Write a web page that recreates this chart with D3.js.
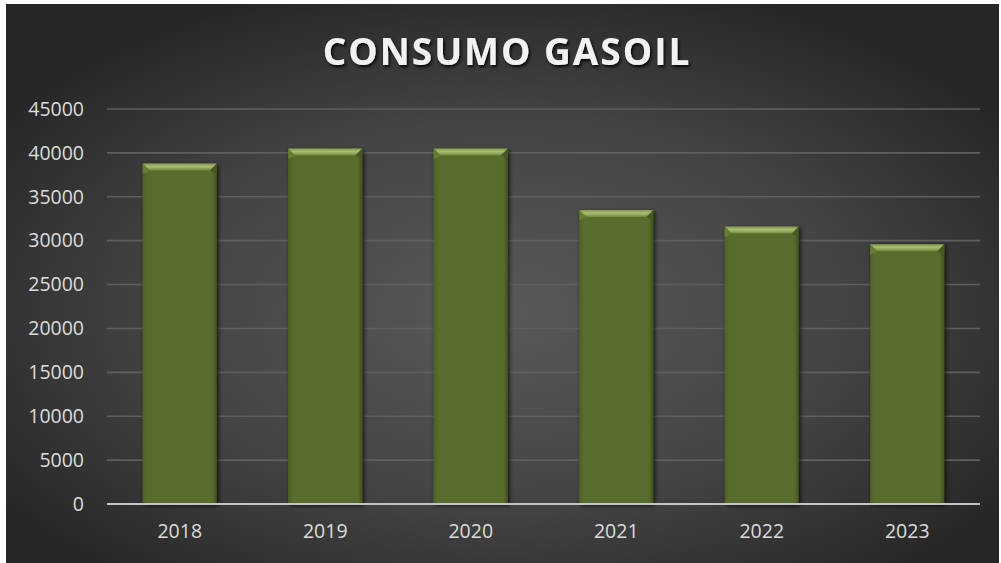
<!DOCTYPE html>
<html><head><meta charset="utf-8">
<script src="https://cdn.jsdelivr.net/npm/d3@7"></script>
<style>html,body{margin:0;padding:0;background:#fff;}svg{display:block;}</style>
</head><body>
<svg id="c" width="1001" height="563"></svg>
<script>
const title = "CONSUMO GASOIL";
const categories = ["2018", "2019", "2020", "2021", "2022", "2023"];
const values = [38800, 40500, 40500, 33500, 31600, 29600];
const yTicks = [0, 5000, 10000, 15000, 20000, 25000, 30000, 35000, 40000, 45000];

const svg = d3.select("#c");
const defs = svg.append("defs");

const bg = defs.append("radialGradient").attr("id","bg")
  .attr("cx","0.5").attr("cy","0.55").attr("r","0.62");
bg.append("stop").attr("offset","0").attr("stop-color","#595959");
bg.append("stop").attr("offset","0.55").attr("stop-color","#444444");
bg.append("stop").attr("offset","1").attr("stop-color","#262626");

const bevel = defs.append("linearGradient").attr("id","bevel").attr("x1",0).attr("y1",0).attr("x2",0).attr("y2",1);
bevel.append("stop").attr("offset","0").attr("stop-color","#809749");
bevel.append("stop").attr("offset","0.45").attr("stop-color","#a9bf76");
bevel.append("stop").attr("offset","1").attr("stop-color","#71883a");

const bodyG = defs.append("linearGradient").attr("id","body").attr("x1",0).attr("y1",0).attr("x2",1).attr("y2",0);
bodyG.append("stop").attr("offset","0").attr("stop-color","#4d6026");
bodyG.append("stop").attr("offset","0.06").attr("stop-color","#586c2d");
bodyG.append("stop").attr("offset","0.94").attr("stop-color","#586c2d");
bodyG.append("stop").attr("offset","1").attr("stop-color","#3f4f1d");

const sh = defs.append("filter").attr("id","shadow").attr("x","-20%").attr("y","-20%").attr("width","140%").attr("height","140%");
sh.append("feDropShadow").attr("dx",1.5).attr("dy",1.5).attr("stdDeviation",2).attr("flood-color","#000").attr("flood-opacity",0.75);

const tsh = defs.append("filter").attr("id","tshadow").attr("x","-10%").attr("y","-30%").attr("width","120%").attr("height","160%");
tsh.append("feDropShadow").attr("dx",1.5).attr("dy",2).attr("stdDeviation",1.5).attr("flood-color","#000").attr("flood-opacity",0.9);

svg.append("rect").attr("x",6).attr("y",4).attr("width",993).attr("height",559).attr("fill","url(#bg)");

const x = d3.scaleBand().domain(categories).range([107, 980]).paddingInner(0.49).paddingOuter(0.245);
const y = d3.scaleLinear().domain([0, 45000]).range([504, 109]);

svg.append("g").selectAll("line").data(yTicks.filter(d => d > 0)).join("line")
  .attr("x1", 107).attr("x2", 980)
  .attr("y1", d => y(d)).attr("y2", d => y(d))
  .attr("stroke", "#5f5f5f").attr("stroke-width", 1.6);

const yAxis = d3.axisLeft(y).tickValues(yTicks).tickSize(0).tickPadding(0).tickFormat(d3.format("d"));
const ya = svg.append("g").attr("transform","translate(84,0)").call(yAxis);
ya.select(".domain").remove();
ya.selectAll("text").attr("fill","#dcdcdc").attr("font-family","'Open Sans', sans-serif").attr("font-size",19.5).attr("text-anchor","end");

const bars = svg.append("g").selectAll("g").data(categories.map((c,i)=>({c, v: values[i]}))).join("g");
bars.append("rect")
  .attr("x", d => x(d.c)).attr("y", d => y(d.v))
  .attr("width", x.bandwidth()).attr("height", d => y(0) - y(d.v))
  .attr("fill", "url(#body)").attr("filter","url(#shadow)");
const bv = 7;
bars.append("path")
  .attr("d", d => {
    const x0 = x(d.c), x1 = x0 + x.bandwidth(), t = y(d.v);
    return `M${x0},${t}L${x1},${t}L${x1-bv},${t+bv}L${x0+bv},${t+bv}Z`;
  })
  .attr("fill", "url(#bevel)");
bars.append("path")
  .attr("d", d => {
    const x0 = x(d.c), t = y(d.v);
    return `M${x0},${t}L${x0+bv},${t+bv}L${x0+2},${t+bv+3}L${x0},${t+bv+3}Z`;
  })
  .attr("fill", "#6a8236").attr("opacity",0.8);
bars.append("path")
  .attr("d", d => {
    const x1 = x(d.c) + x.bandwidth(), t = y(d.v);
    return `M${x1},${t}L${x1-bv},${t+bv}L${x1-2},${t+bv+3}L${x1},${t+bv+3}Z`;
  })
  .attr("fill", "#465a20").attr("opacity",0.9);

svg.append("line").attr("x1",107).attr("x2",980).attr("y1",y(0)).attr("y2",y(0))
  .attr("stroke","#c4c4c4").attr("stroke-width",2.2);

const xAxis = d3.axisBottom(x).tickSize(0).tickPadding(0);
const xa = svg.append("g").attr("transform","translate(0,524)").call(xAxis);
xa.select(".domain").remove();
xa.selectAll("text").attr("fill","#dcdcdc").attr("font-family","'Open Sans', sans-serif").attr("font-size",19.5).attr("dy","0.71em");

svg.append("text").attr("x", 507).attr("y", 65).attr("text-anchor","middle")
  .attr("font-family","'Open Sans', sans-serif").attr("font-weight","bold").attr("font-size",37)
  .attr("letter-spacing", 2)
  .attr("fill","#f2f2f2").attr("filter","url(#tshadow)").text(title);
</script>
</body></html>
